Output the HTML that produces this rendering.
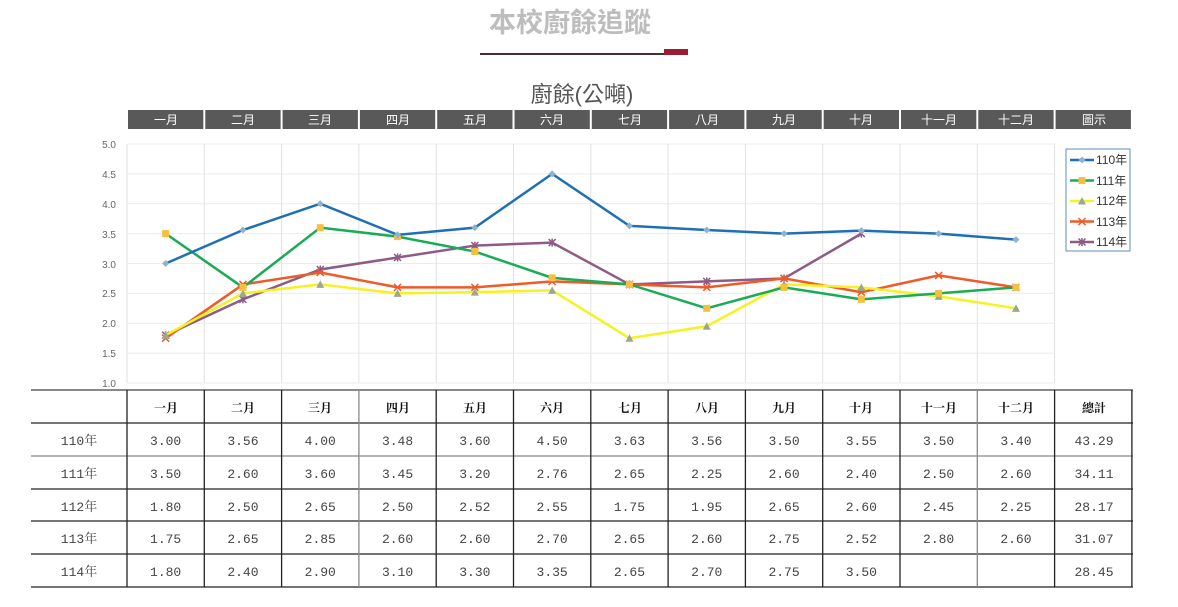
<!DOCTYPE html>
<html><head><meta charset="utf-8"><style>
body{margin:0;background:#fff;width:1178px;height:607px;overflow:hidden}
svg{display:block}
.hd{font-family:"Liberation Sans","Noto Sans CJK TC",sans-serif;font-size:12px;fill:#fff}
.ax{font-family:"Liberation Sans",sans-serif;font-size:10px;fill:#666}
.tb{font-family:"Liberation Mono","Noto Serif CJK SC",monospace;font-size:13px;fill:#444}
.th{font-family:"Liberation Serif","Noto Serif CJK SC",serif;font-size:12px;font-weight:bold;fill:#111}
.lg{font-family:"Liberation Sans","Noto Sans CJK TC",sans-serif;font-size:12px;fill:#333}
</style></head><body>
<svg id="s" width="1178" height="607" xmlns="http://www.w3.org/2000/svg">
<text x="570" y="32" text-anchor="middle" font-family="'Liberation Sans','Noto Sans CJK TC',sans-serif" font-size="27" font-weight="bold" fill="#bdbdbd">本校廚餘追蹤</text>
<rect x="480" y="53" width="184" height="2" fill="#4a2a33"/>
<rect x="664" y="49" width="24" height="6" fill="#9b1c33"/>
<text x="582" y="102" text-anchor="middle" font-family="'Liberation Sans','Noto Sans CJK TC',sans-serif" font-size="22" fill="#555">廚餘(公噸)</text>
<g id="hdr"></g>
<g>
<text class="hd" x="166" y="124" text-anchor="middle">一月</text><text class="hd" x="243" y="124" text-anchor="middle">二月</text><text class="hd" x="320" y="124" text-anchor="middle">三月</text><text class="hd" x="398" y="124" text-anchor="middle">四月</text><text class="hd" x="475" y="124" text-anchor="middle">五月</text><text class="hd" x="552" y="124" text-anchor="middle">六月</text><text class="hd" x="630" y="124" text-anchor="middle">七月</text><text class="hd" x="707" y="124" text-anchor="middle">八月</text><text class="hd" x="784" y="124" text-anchor="middle">九月</text><text class="hd" x="861" y="124" text-anchor="middle">十月</text><text class="hd" x="939" y="124" text-anchor="middle">十一月</text><text class="hd" x="1016" y="124" text-anchor="middle">十二月</text><text class="hd" x="1094" y="124" text-anchor="middle">圖示</text>
</g>
<g id="grid"></g>
<text class="ax" x="116" y="148" text-anchor="end">5.0</text>
<text class="ax" x="116" y="178" text-anchor="end">4.5</text>
<text class="ax" x="116" y="208" text-anchor="end">4.0</text>
<text class="ax" x="116" y="238" text-anchor="end">3.5</text>
<text class="ax" x="116" y="268" text-anchor="end">3.0</text>
<text class="ax" x="116" y="297" text-anchor="end">2.5</text>
<text class="ax" x="116" y="327" text-anchor="end">2.0</text>
<text class="ax" x="116" y="357" text-anchor="end">1.5</text>
<text class="ax" x="116" y="387" text-anchor="end">1.0</text>
<g id="series"></g>
<rect x="1066" y="149" width="64" height="102" fill="#fff" stroke="#5b8fc7" stroke-width="1"/>
<g id="leg"></g>
<text class="lg" x="1096" y="164">110年</text>
<text class="lg" x="1096" y="185">111年</text>
<text class="lg" x="1096" y="205">112年</text>
<text class="lg" x="1096" y="226">113年</text>
<text class="lg" x="1096" y="246">114年</text>
<g id="tbl" stroke="#222" stroke-width="1.3"></g>
<g>
<text class="th" x="166" y="412" text-anchor="middle">一月</text><text class="th" x="243" y="412" text-anchor="middle">二月</text><text class="th" x="320" y="412" text-anchor="middle">三月</text><text class="th" x="398" y="412" text-anchor="middle">四月</text><text class="th" x="475" y="412" text-anchor="middle">五月</text><text class="th" x="552" y="412" text-anchor="middle">六月</text><text class="th" x="630" y="412" text-anchor="middle">七月</text><text class="th" x="707" y="412" text-anchor="middle">八月</text><text class="th" x="784" y="412" text-anchor="middle">九月</text><text class="th" x="861" y="412" text-anchor="middle">十月</text><text class="th" x="939" y="412" text-anchor="middle">十一月</text><text class="th" x="1016" y="412" text-anchor="middle">十二月</text><text class="th" x="1094" y="412" text-anchor="middle">總計</text>
<text class="tb" x="79" y="445" text-anchor="middle">110年</text><text class="tb" x="79" y="478" text-anchor="middle">111年</text><text class="tb" x="79" y="511" text-anchor="middle">112年</text><text class="tb" x="79" y="543" text-anchor="middle">113年</text><text class="tb" x="79" y="576" text-anchor="middle">114年</text>
</g>
<g id="vals"></g>
</svg>
<script>
var S="http://www.w3.org/2000/svg";
function el(t,a,p){var e=document.createElementNS(S,t);for(var k in a)e.setAttribute(k,a[k]);(p||document.getElementById('s')).appendChild(e);return e;}
var W=77.3,X0=127;
var hdr=document.getElementById('hdr');
for(var i=0;i<13;i++){el('rect',{x:X0+i*W+1,y:110,width:W-2,height:19,fill:'#595959'},hdr);}
var grid=document.getElementById('grid');
for(var i=0;i<9;i++){var y=144+i*29.875;el('line',{x1:127,x2:1055,y1:y,y2:y,stroke:'#ececec'},grid);}
for(var i=0;i<=12;i++){var x=X0+i*W;el('line',{x1:x,x2:x,y1:144,y2:383,stroke:'#e2e2e2'},grid);}
function Y(v){return 144+(5-v)*59.75;}
function C(i){return X0+W*(i+0.5);}
var data=[
[3.00,3.56,4.00,3.48,3.60,4.50,3.63,3.56,3.50,3.55,3.50,3.40],
[3.50,2.60,3.60,3.45,3.20,2.76,2.65,2.25,2.60,2.40,2.50,2.60],
[1.80,2.50,2.65,2.50,2.52,2.55,1.75,1.95,2.65,2.60,2.45,2.25],
[1.75,2.65,2.85,2.60,2.60,2.70,2.65,2.60,2.75,2.52,2.80,2.60],
[1.80,2.40,2.90,3.10,3.30,3.35,2.65,2.70,2.75,3.50]];
var tot=["43.29","34.11","28.17","31.07","28.45"];
var col=['#1f6fb5','#1aab55','#f5f222','#ee5a28','#8e5b87'];
var mc=['#8fb3cc','#f5c040','#9aa890','#ee5a28','#8e5b87'];
var g=document.getElementById('series');
function mark(k,x,y,p){
 if(k==0)el('polygon',{points:(x)+','+(y-3.5)+' '+(x+3.5)+','+y+' '+x+','+(y+3.5)+' '+(x-3.5)+','+y,fill:mc[0]},p);
 else if(k==1)el('rect',{x:x-3.5,y:y-3.5,width:7,height:7,fill:mc[1]},p);
 else if(k==2)el('polygon',{points:x+','+(y-4)+' '+(x+4)+','+(y+3.5)+' '+(x-4)+','+(y+3.5),fill:mc[2]},p);
 else{el('path',{d:'M'+(x-3.5)+' '+(y-3.5)+'L'+(x+3.5)+' '+(y+3.5)+'M'+(x+3.5)+' '+(y-3.5)+'L'+(x-3.5)+' '+(y+3.5)+(k==4?'M'+x+' '+(y-4)+'L'+x+' '+(y+4):''),stroke:mc[k],'stroke-width':1.5},p);}
}
for(var k=4;k>=0;k--){var pts=data[k].map(function(v,i){return C(i)+','+Y(v)}).join(' ');
 el('polyline',{points:pts,fill:'none',stroke:col[k],'stroke-width':2.5},g);
 data[k].forEach(function(v,i){mark(k,C(i),Y(v),g);});}
var lg=document.getElementById('leg');
for(var k=0;k<5;k++){var y=160+k*20.5;el('line',{x1:1070,x2:1094,y1:y,y2:y,stroke:col[k],'stroke-width':2.5},lg);mark(k,1082,y,lg);}
var t=document.getElementById('tbl');
var rows=[390,423,456,489,521,554,587];
rows.forEach(function(y,i){el('line',{x1:31,x2:1133,y1:y,y2:y,stroke:i==0||i==2?'#888':'#222','stroke-width':i==0?2:1.3},t);});
for(var i=0;i<=13;i++){var x=X0+i*W;el('line',{x1:x,x2:x,y1:390,y2:587,stroke:(i==3||i==11)?'#888':'#222'},t);}
var v=document.getElementById('vals');
for(var k=0;k<5;k++){var y=[445,478,511,543,576][k];
 data[k].forEach(function(d,i){var e=el('text',{x:C(i),y:y,'text-anchor':'middle','class':'tb'},v);e.textContent=d.toFixed(2);});
 var e=el('text',{x:1094,y:y,'text-anchor':'middle','class':'tb'},v);e.textContent=tot[k];}
</script>
</body></html>
